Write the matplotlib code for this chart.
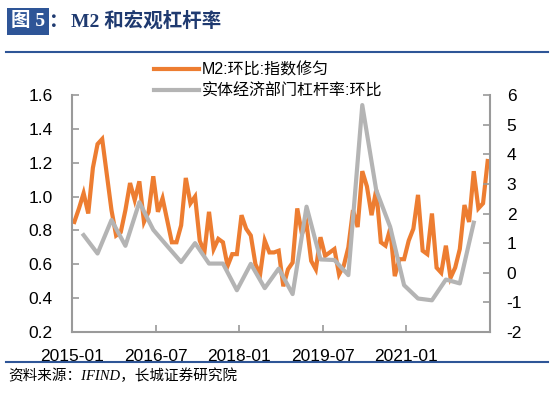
import numpy as np
import matplotlib.pyplot as plt
from matplotlib.lines import Line2D
from matplotlib.patches import Rectangle

plt.rcParams["font.family"] = ["Liberation Sans", "Noto Sans CJK SC"]
plt.rcParams["axes.unicode_minus"] = False

# monthly M2 m/m (smoothed), 2015-01 .. 2022-06
m2_mom = [
    0.85, 0.93, 1.02, 0.90, 1.17, 1.31, 1.34, 1.13, 0.92, 0.77,
    0.79, 0.92, 1.08, 0.98, 1.09, 0.85, 0.91, 1.12, 0.91, 0.99,
    0.86, 0.73, 0.73, 0.83, 1.11, 0.96, 1.00, 0.74, 0.67, 0.91,
    0.69, 0.75, 0.73, 0.59, 0.66, 0.66, 0.89, 0.81, 0.77, 0.60,
    0.54, 0.74, 0.67, 0.67, 0.68, 0.47, 0.57, 0.61, 0.93, 0.78,
    0.84, 0.62, 0.57, 0.76, 0.65, 0.67, 0.69, 0.54, 0.59, 0.70,
    0.92, 0.82, 1.15, 1.06, 0.89, 1.04, 0.73, 0.71, 0.81, 0.53,
    0.63, 0.63, 0.74, 0.81, 1.01, 0.68, 0.66, 0.90, 0.58, 0.55,
    0.71, 0.52, 0.58, 0.69, 0.95, 0.85, 1.15, 0.93, 0.96, 1.21,
]

# quarterly leverage change, 2015Q1 .. 2022Q1 (quarter-end months)
leverage_qoq = [
    1.27, 0.65, 1.78, 0.91, 2.38, 1.45, 0.90, 0.36, 1.00, 0.31,
    0.31, -0.59, 0.30, -0.52, 0.14, -0.72, 2.23, 0.45, 0.43, -0.08,
    5.66, 2.79, 1.55, -0.42, -0.87, -0.93, -0.23, -0.36, 1.69,
]

tick_labels = ["2015-01", "2016-07", "2018-01", "2019-07", "2021-01"]

orange = "#ED7D31"
gray = "#B4B4B4"
blue = "#2E5597"
navy = "#1F3A70"
spine_c = "#9A9A9A"

x_m2 = np.arange(len(m2_mom))
x_lev = np.arange(len(leverage_qoq)) * 3 + 2

fig = plt.figure(figsize=(5.5, 3.98), dpi=100)
ax = fig.add_axes([72 / 550, 1 - 332 / 398, 418 / 550, 237 / 398])
ax2 = ax.twinx()

l1, = ax.plot(x_m2, m2_mom, color=orange, lw=3, solid_joinstyle="miter")
l2, = ax2.plot(x_lev, leverage_qoq, color=gray, lw=3)

ax.set_xlim(-0.5, len(m2_mom) - 0.5)
ax.set_ylim(0.2, 1.6)
ax.set_yticks(np.arange(0.2, 1.61, 0.2))
ax.set_yticklabels([f"{v:.1f}" for v in np.arange(0.2, 1.61, 0.2)])
ax2.set_ylim(-2, 6)
ax2.set_yticks(range(-2, 7))
ax.set_xticks([-0.5 + 18 * k for k in range(5)])
ax.set_xticklabels(tick_labels)

for a in (ax, ax2):
    a.spines["top"].set_visible(False)
    for s in ("left", "right", "bottom"):
        a.spines[s].set_color(spine_c)
        a.spines[s].set_linewidth(1.5)
ax.spines["right"].set_visible(False)
ax2.spines["left"].set_visible(False)
ax2.spines["bottom"].set_visible(False)

ax.tick_params(axis="y", direction="in", length=5, color=spine_c, width=1.2,
               labelsize=12.5, pad=14)
ax.tick_params(axis="x", direction="in", length=5, color=spine_c, width=1.2,
               labelsize=12.5, pad=12)
ax2.tick_params(axis="y", direction="in", length=5, color=spine_c, width=1.2,
                labelsize=12.5, pad=12)

fig.legend([l1, l2], ["M2:环比:指数修匀", "实体经济部门杠杆率:环比"],
           loc="upper left", bbox_to_anchor=(148 / 550, 1 - 56 / 398),
           frameon=False, fontsize=11.5, handlelength=2.8, handletextpad=0.15,
           labelspacing=0.35, borderaxespad=0)

# title block
fig.add_artist(Rectangle((7 / 550, 1 - 35 / 398), 42 / 550, 27 / 398,
                         transform=fig.transFigure, fc=blue, ec="none"))
fig.text(28 / 550, 1 - 21.5 / 398, "图 5", color="white", fontsize=14,
         fontweight="bold", va="center", ha="center",
         family=["Liberation Serif", "Noto Sans CJK SC"])
fig.text(49 / 550, 1 - 21.5 / 398, "：", color=navy, fontsize=14,
         fontweight="bold", va="center", ha="left",
         family=["Noto Sans CJK SC"])
fig.text(71 / 550, 1 - 21.5 / 398, "M2 和宏观杠杆率", color=navy, fontsize=14,
         fontweight="bold", va="center", ha="left",
         family=["Liberation Serif", "Noto Sans CJK SC"])

fig.add_artist(Line2D([6 / 550, 548 / 550], [1 - 52 / 398, 1 - 52 / 398],
                      color=blue, lw=1.5, transform=fig.transFigure))
fig.add_artist(Line2D([6 / 550, 548 / 550], [1 - 362 / 398, 1 - 362 / 398],
                      color=blue, lw=1.5, transform=fig.transFigure))

fig.text(8 / 550, 1 - 376 / 398, "资料来源：IFIND，长城证券研究院", fontsize=10.5,
         style="italic", va="center", ha="left",
         family=["Liberation Serif", "Noto Sans CJK SC"])

fig.savefig("out.png", dpi=100)
